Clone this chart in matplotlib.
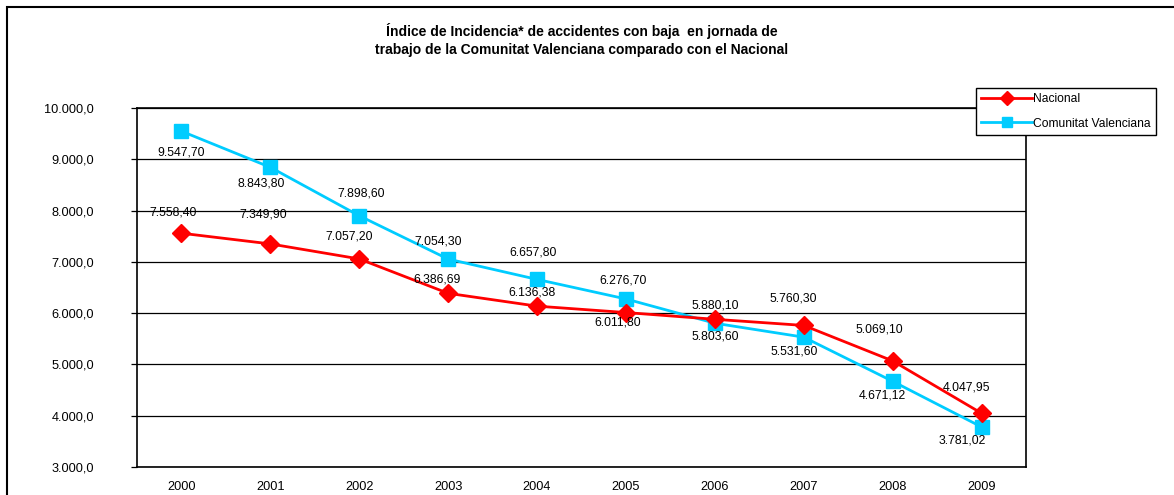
import matplotlib.pyplot as plt
from matplotlib.patches import Rectangle

plt.rcParams['font.family'] = ['Liberation Sans', 'DejaVu Sans']

# datos
anios = ['2000', '2001', '2002', '2003', '2004', '2005', '2006', '2007', '2008', '2009']
nacional = [7558.40, 7349.90, 7057.20, 6386.69, 6136.38, 6011.80, 5880.10, 5760.30, 5069.10, 4047.95]
valenciana = [9547.70, 8843.80, 7898.60, 7054.30, 6657.80, 6276.70, 5803.60, 5531.60, 4671.12, 3781.02]
yticks = [3000, 4000, 5000, 6000, 7000, 8000, 9000, 10000]

# desplazamiento de las etiquetas (pixeles)
off_nac = [(-8, 21), (-7, 29), (-10, 22), (-11, 14), (-5, 14), (-8, -10),
           (0, 14), (-11, 27), (-13, 31), (-15, 26)]
off_val = [(0, -21), (-9, -16), (2, 22), (-10, 18), (-4, 27), (-3, 18),
           (0, -13), (-10, -14), (-10, -14), (-19, -14)]


def fmt(v, d):
    s = f"{v:,.{d}f}"
    return s.replace(',', 'X').replace('.', ',').replace('X', '.')


fig = plt.figure(figsize=(11.74, 4.95), dpi=100)
ax = fig.add_axes([137/1174, 1-467/495, 889/1174, 359/495])

x = list(range(len(anios)))
ax.plot(x, nacional, color='#FF0000', lw=2, marker='D', ms=9.5,
        label='Nacional', zorder=4)
ax.plot(x, valenciana, color='#00CCFF', lw=2, marker='s', ms=10.5,
        label='Comunitat Valenciana', zorder=3)

for i in x:
    ax.annotate(fmt(nacional[i], 2), (i, nacional[i]), xytext=off_nac[i],
                textcoords='offset pixels', ha='center', va='center',
                fontsize=8.8, zorder=5)
    ax.annotate(fmt(valenciana[i], 2), (i, valenciana[i]), xytext=off_val[i],
                textcoords='offset pixels', ha='center', va='center',
                fontsize=8.8, zorder=5)

ax.set_xlim(-0.5, len(anios) - 0.5)
ax.set_ylim(3000, 10000)
ax.set_yticks(yticks)
ax.set_yticklabels([fmt(v, 1) for v in yticks])
ax.set_xticks(x)
ax.set_xticklabels(anios)
ax.yaxis.grid(True, color='black', lw=0.9)
ax.set_axisbelow(True)
ax.tick_params(axis='y', length=4, width=0.9, pad=27, labelsize=9.2)
ax.tick_params(axis='x', length=0, pad=10, labelsize=9.2)
for s in ax.spines.values():
    s.set_linewidth(1.2)

leg = fig.legend(loc='upper left', bbox_to_anchor=(976/1174, 1-88/495),
                 fontsize=8.7, frameon=True, fancybox=False, shadow=False,
                 edgecolor='black', framealpha=1, handlelength=4.2,
                 handletextpad=0.1, borderpad=0.45, labelspacing=1.0,
                 borderaxespad=0)
leg.get_frame().set_linewidth(1.0)
for h in leg.legend_handles:
    h.set_markersize(7)

fig.text(582/1174, 1-40/495,
         'Índice de Incidencia* de accidentes con baja  en jornada de\n'
         'trabajo de la Comunitat Valenciana comparado con el Nacional',
         ha='center', va='center', fontsize=10, fontweight='bold',
         linespacing=1.45)

fig.patches.append(Rectangle((7/1174, -0.2), 1.5, 0.2 + 1 - 7/495,
                             transform=fig.transFigure, fill=False,
                             edgecolor='black', lw=1.5))

fig.savefig('out.png', dpi=100)
